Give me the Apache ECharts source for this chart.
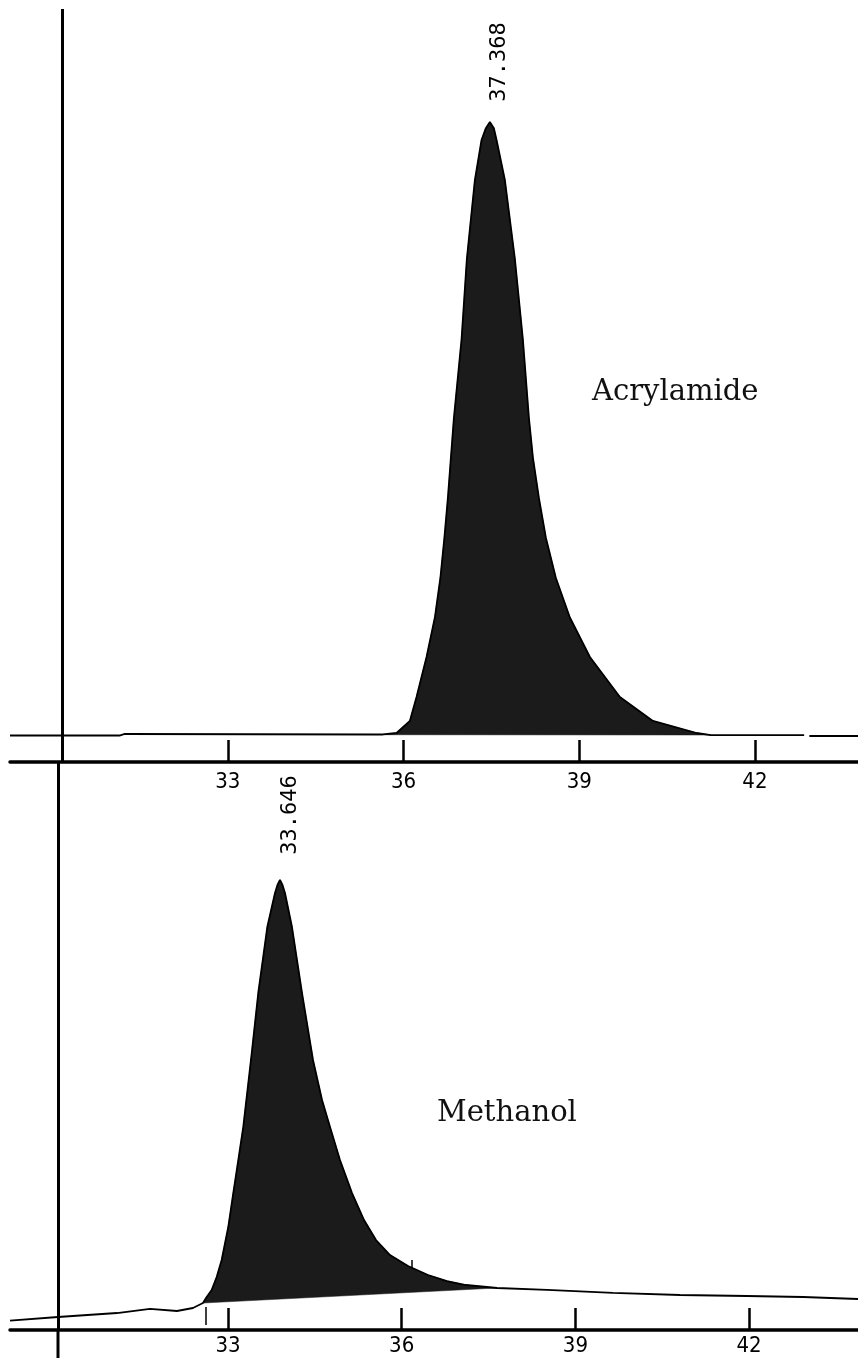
<!DOCTYPE html>
<html>
<head>
<meta charset="utf-8">
<script src="https://cdn.jsdelivr.net/npm/echarts@6/dist/echarts.min.js"></script>
<style>
html, body { margin: 0; padding: 0; background: #fff; }
#main { width: 858px; height: 1358px; }
</style>
</head>
<body>
<div id="main"></div>
<script>
// tick marks on both time axes (min)
const ticks = [33, 36, 39, 42]

// Acrylamide trace: time (min) / signal, '-' = pen gap
const acrTime = [29.28, 31.15, 31.24, 35.55, 35.647, 35.881, 36.108, 36.222, 36.393, 36.535, 36.629, 36.697, 36.757, 36.859, 36.991, 37.081, 37.218, 37.332, 37.406, 37.474, 37.542, 37.588, 37.730, 37.901, 38.037, 38.140, 38.209, 38.311, 38.431, 38.601, 38.840, 39.182, 39.694, 40.258, 41.004, 41.248, 42.0, 42.84, 42.88, 42.93, 43.76]
const acrSignal = [4.32, 4.32, 4.57, 4.49, 4.49, 4.73, 6.69, 10.60, 17.13, 23.57, 30.02, 36.54, 43.07, 56.04, 69.00, 82.06, 94.94, 101.47, 103.4, 104.40, 103.4, 101.47, 94.94, 82.06, 69.00, 56.20, 49.67, 43.07, 36.54, 30.02, 23.57, 17.13, 10.60, 6.69, 4.73, 4.40, 4.40, 4.40, '-', 4.24, 4.24]
// integration limits + baseline
const acrPeakTime = [35.647, 41.248]
const acrPeakBase = [4.45, 4.40]
const acrRT = '37.368'

// Methanol trace
const methTime = [29.235, 30.064, 31.083, 31.653, 32.119, 32.395, 32.568, 32.632, 32.718, 32.805, 32.891, 33.005, 33.092, 33.178, 33.264, 33.397, 33.523, 33.679, 33.812, 33.855, 33.898, 33.941, 33.984, 34.105, 34.278, 34.468, 34.624, 34.762, 34.934, 35.142, 35.349, 35.556, 35.798, 36.109, 36.454, 36.782, 37.110, 37.646, 38.510, 39.649, 40.807, 41.964, 42.931, 43.881]
const methSignal = [1.52, 2.12, 2.77, 3.43, 3.10, 3.59, 4.40, 5.38, 6.53, 8.65, 11.42, 16.80, 22.35, 27.73, 33.12, 44.05, 54.98, 65.74, 71.29, 72.6, 73.41, 72.6, 71.29, 65.74, 54.98, 44.05, 37.52, 33.12, 27.73, 22.35, 17.94, 14.68, 12.23, 10.44, 8.97, 7.99, 7.34, 6.85, 6.53, 6.04, 5.71, 5.55, 5.38, 5.06]
const methPeakTime = [32.568, 37.646]
const methPeakBase = [4.40, 6.85]
const methRT = '33.646'

const pairs = (xs, ys) => xs.map((x, i) => [x, ys[i]])

const black = '#000'
const fill = '#1b1b1b'

function xAxisFor(grid, min, max, margin) {
    return {
        gridIndex: grid, type: 'value', min: min, max: max, z: 10,
        axisLine: { onZero: false, lineStyle: { color: black, width: 3.5 } },
        axisTick: { customValues: ticks, inside: true, length: 22, lineStyle: { color: black, width: 2.5 } },
        axisLabel: { customValues: ticks, color: black, fontSize: 22, fontFamily: 'DejaVu Sans Condensed', margin: margin },
        splitLine: { show: false }
    }
}

function panelSeries(idx, time, signal, peakTime, peakBase, marks) {
    const trace = pairs(time, signal)
    const peak = trace.filter(p => p[0] >= peakTime[0] && p[0] <= peakTime[1])
    return [
        {   // integrated peak: trace down to the integration baseline
            type: 'custom', xAxisIndex: idx, yAxisIndex: idx, z: 2, silent: true,
            data: pairs(peakTime, peakBase),
            renderItem: function (params, api) {
                if (params.dataIndex > 0) return
                const pts = peak.map(p => api.coord(p))
                    .concat([api.coord([peakTime[1], peakBase[1]]), api.coord([peakTime[0], peakBase[0]])])
                return { type: 'polygon', shape: { points: pts }, style: { fill: fill, stroke: fill, lineWidth: 0.5 } }
            }
        },
        {   // pen trace
            type: 'line', xAxisIndex: idx, yAxisIndex: idx, z: 4,
            data: trace, symbol: 'none',
            lineStyle: { color: black, width: 1.8 },
            markLine: {
                silent: true, symbol: ['none', 'none'], label: { show: false },
                lineStyle: { color: black, type: 'solid', width: 3 },
                data: marks
            }
        }
    ]
}

// injection marker position on each panel
const acrStart = 30.17
const methStart = 30.064

var myChart = echarts.init(document.getElementById('main'))
const option = {
    animation: false,
    backgroundColor: '#fff',
    grid: [
        { left: 10, right: 0, top: 9, height: 753, outerBoundsMode: 'none' },
        { left: 10, right: 0, top: 762, height: 568, outerBoundsMode: 'none' }
    ],
    xAxis: [
        xAxisFor(0, 29.28, 43.76, 9),
        xAxisFor(1, 29.235, 43.881, 5)
    ],
    yAxis: [
        { gridIndex: 0, type: 'value', min: 0, max: 122.84, show: false },
        { gridIndex: 1, type: 'value', min: 0, max: 92.66, show: false }
    ],
    series: []
}
option.series = option.series
    .concat(panelSeries(0, acrTime, acrSignal, acrPeakTime, acrPeakBase, [
        { xAxis: acrStart }
    ]))
    .concat(panelSeries(1, methTime, methSignal, methPeakTime, methPeakBase, [
        { xAxis: methStart },
        [{ coord: [32.62, 0.8], lineStyle: { width: 1.5 } }, { coord: [32.62, 3.75] }],
        [{ coord: [36.18, 10.1], lineStyle: { width: 1.5 } }, { coord: [36.18, 11.4] }]
    ]))
myChart.setOption(option)

// retention-time labels above apex
function apex(time, signal) {
    const i = signal.indexOf(Math.max.apply(null, signal.filter(v => v !== '-')))
    return [time[i], signal[i]]
}
const p1 = myChart.convertToPixel({ gridIndex: 0 }, apex(acrTime, acrSignal))
const p2 = myChart.convertToPixel({ gridIndex: 1 }, apex(methTime, methSignal))
// the marker line runs on below the lower axis
const m0 = myChart.convertToPixel({ gridIndex: 1 }, [methStart, 0])
const rtStyle = { fill: black, fontSize: 22, fontFamily: 'DejaVu Sans Mono', align: 'center', verticalAlign: 'middle' }
const nameStyle = { fill: '#111', fontSize: 29, fontFamily: 'DejaVu Serif', align: 'left', verticalAlign: 'middle' }
myChart.setOption({
    graphic: [
        { type: 'line', shape: { x1: m0[0], y1: m0[1], x2: m0[0], y2: 1358 }, style: { stroke: black, lineWidth: 3 } },
        { type: 'text', x: p1[0] + 9, y: p1[1] - 60, rotation: Math.PI / 2, style: Object.assign({ text: acrRT }, rtStyle) },
        { type: 'text', x: p2[0] + 10, y: p2[1] - 65, rotation: Math.PI / 2, style: Object.assign({ text: methRT }, rtStyle) },
        { type: 'text', x: 592, y: 392, style: Object.assign({ text: 'Acrylamide' }, nameStyle) },
        { type: 'text', x: 437, y: 1113, style: Object.assign({ text: 'Methanol' }, nameStyle) }
    ]
})
</script>
</body>
</html>
